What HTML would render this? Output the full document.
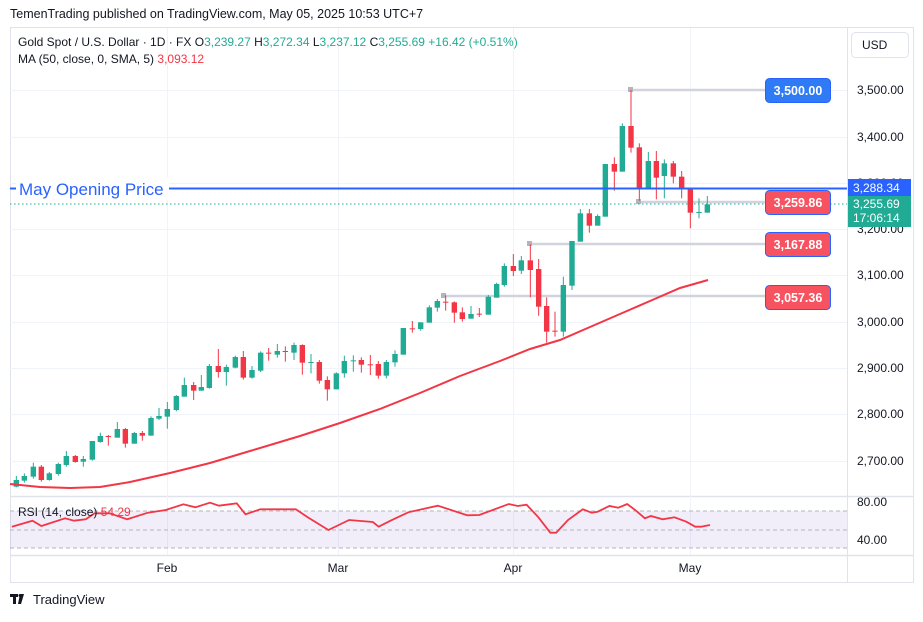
<!DOCTYPE html>
<html><head><meta charset="utf-8"><style>
body{margin:0;background:#fff;width:923px;height:617px;overflow:hidden;font-family:"Liberation Sans",sans-serif}
svg text{font-family:"Liberation Sans",sans-serif}
</style></head><body>
<svg id="s" width="923" height="617" xmlns="http://www.w3.org/2000/svg">
<rect width="923" height="617" fill="#fff"/>
<text x="10" y="18" font-size="12.5" fill="#131722">TemenTrading published on TradingView.com, May 05, 2025 10:53 UTC+7</text>
<rect x="10.5" y="27.5" width="903" height="555" fill="none" stroke="#e0e3eb"/>
<line x1="847.5" y1="27" x2="847.5" y2="582" stroke="#e0e3eb"/>
<line x1="10" y1="496.5" x2="913" y2="496.5" stroke="#e0e3eb" stroke-width="1.5"/>
<line x1="10" y1="555.5" x2="913" y2="555.5" stroke="#e0e3eb" stroke-width="1.5"/>
<g id="grid" stroke="#f0f3fa" stroke-width="1"></g>
<rect x="10" y="511" width="837" height="37" fill="#7e57c2" fill-opacity="0.1"/>
<g stroke="#b2b5be" stroke-dasharray="4,3" stroke-width="1">
<line x1="10" y1="511" x2="847" y2="511"/><line x1="10" y1="530" x2="847" y2="530"/><line x1="10" y1="548" x2="847" y2="548"/></g>
<g stroke="#d1d4dc" stroke-width="2.5">
<line x1="631" y1="90" x2="765" y2="90"/><line x1="639" y1="202" x2="765" y2="202"/>
<line x1="530" y1="244" x2="765" y2="244"/><line x1="444" y1="296" x2="765" y2="296"/></g>
<g fill="#b2b5be"><rect x="628" y="87" width="5" height="5"/><rect x="636" y="199" width="5" height="5"/><rect x="527" y="241" width="5" height="5"/><rect x="441" y="293" width="5" height="5"/></g>
<line x1="10" y1="204" x2="847" y2="204" stroke="#22ab94" stroke-dasharray="1.5,2.5"/>
<g id="candles"></g>
<polyline fill="none" stroke="#f23645" stroke-width="2" points="10,484 40,487 70,488 100,487 130,482 170,473 210,463 250,451 300,436 340,423 380,409 420,393 460,376 500,361 530,349 560,340 590,327 620,314 650,301 680,288 708,280"/>
<polyline id="rsi" fill="none" stroke="#f23645" stroke-width="1.8"/>
<line x1="10" y1="188.5" x2="847" y2="188.5" stroke="#2962ff" stroke-width="2"/>
<rect x="16" y="178" width="153" height="22" fill="#fff"/>
<text x="19" y="195" font-size="17" fill="#2962ff">May Opening Price</text>
<g font-size="12.5" font-weight="bold" fill="#fff" text-anchor="middle">
<rect x="765.5" y="78.5" width="65" height="24" rx="4" fill="#2f7bf5" stroke="#2962ff"/><text x="798" y="95">3,500.00</text>
<rect x="765.5" y="190.5" width="65" height="24" rx="4" fill="#f7525f" stroke="#2962ff"/><text x="798" y="207">3,259.86</text>
<rect x="765.5" y="232.5" width="65" height="24" rx="4" fill="#f7525f" stroke="#2962ff"/><text x="798" y="249">3,167.88</text>
<rect x="765.5" y="285.5" width="65" height="24" rx="4" fill="#f7525f" stroke="#2962ff"/><text x="798" y="302">3,057.36</text>
</g>
<g font-size="12" fill="#131722">
<text x="857" y="94">3,500.00</text><text x="857" y="141">3,400.00</text><text x="857" y="187">3,300.00</text>
<text x="857" y="233">3,200.00</text><text x="857" y="279">3,100.00</text><text x="857" y="326">3,000.00</text>
<text x="857" y="372">2,900.00</text><text x="857" y="418">2,800.00</text><text x="857" y="465">2,700.00</text>
<text x="857" y="506">80.00</text><text x="857" y="544">40.00</text>
</g>
<rect x="848" y="179" width="63" height="17" fill="#2962ff"/>
<rect x="848" y="196" width="63" height="31" fill="#22ab94"/>
<g font-size="12" fill="#fff"><text x="853" y="192">3,288.34</text><text x="853" y="208">3,255.69</text><text x="853" y="222">17:06:14</text></g>
<rect x="851.5" y="32.5" width="57" height="25" rx="4" fill="#fff" stroke="#e0e3eb"/>
<text x="862" y="49" font-size="12" fill="#131722">USD</text>
<g font-size="12" fill="#131722" text-anchor="middle"><text x="167" y="572">Feb</text><text x="338" y="572">Mar</text><text x="513" y="572">Apr</text><text x="690" y="572">May</text></g>
<g font-size="12"><text x="18" y="46" fill="#131722">Gold Spot / U.S. Dollar · 1D · FX  <tspan>O</tspan><tspan fill="#22ab94">3,239.27</tspan>  H<tspan fill="#22ab94">3,272.34</tspan>  L<tspan fill="#22ab94">3,237.12</tspan>  C<tspan fill="#22ab94">3,255.69</tspan>  <tspan fill="#22ab94">+16.42 (+0.51%)</tspan></text>
<text x="18" y="63" fill="#131722">MA (50, close, 0, SMA, 5)  <tspan fill="#f23645">3,093.12</tspan></text>
<text x="18" y="516" fill="#131722">RSI (14, close) <tspan fill="#f23645">54.29</tspan></text></g>
<g fill="#131722"><rect x="10" y="594" width="8" height="3"/><rect x="13" y="594" width="3" height="10"/><path d="M20 594h4l-3 10h-3z"/><circle cx="20" cy="595.5" r="1.5"/></g>
<text x="33" y="604" font-size="13" fill="#131722">TradingView</text>
</svg>
<script>
var NS="http://www.w3.org/2000/svg",g=document.getElementById("grid"),c=document.getElementById("candles");
function el(p,t,a){var e=document.createElementNS(NS,t);for(var k in a)e.setAttribute(k,a[k]);p.appendChild(e);return e;}
[90,137,183,229,275,322,368,414,461].forEach(function(y){el(g,"line",{x1:10,x2:847,y1:y+.5,y2:y+.5});});
[167,338,513,690].forEach(function(x){el(g,"line",{x1:x+.5,x2:x+.5,y1:28,y2:555});});
var z5=[[34,1,450,470,438,472],[58,1,438,452,430,458],[85,1,410,440,398,446],[109,0,410,450,405,455],[133,1,430,450,426,452],[160,1,402,432,398,437],[184,1,378,405,363,410],[211,0,378,396,375,398],[235,1,387,395,378,410],[262,1,333,389,333,392],[286,1,318,336,308,338],[310,0,318,318,315,347],[337,1,297,323,276,323],[361,0,297,341,294,353],[388,1,309,341,306,341],[412,0,309,317,303,332],[438,1,264,317,259,317],[462,1,258,266,234,270],[487,1,237,260,216,296],[514,1,198,240,195,244],[538,1,165,200,143,200],[566,0,165,182,156,210],[589,1,171,182,135,182],[613,1,108,174,102,176],[640,0,108,126,57,143],[664,1,111,126,104,167],[691,1,81,113,77,115],[715,0,81,143,63,149],[741,1,120,143,108,146]];
var z6=[[32,1,218,272,214,276],[56,0,218,218,204,242],[82,1,213,224,192,233],[106,0,213,213,199,245],[132,1,195,218,188,240],[157,0,195,248,193,284],[183,1,246,246,222,280],[208,0,246,302,240,311],[232,0,300,328,289,362],[259,1,280,328,277,328],[283,1,243,280,227,293],[310,1,241,241,226,275],[334,0,240,254,232,278],[361,0,253,253,225,285],[385,0,252,287,243,296],[409,1,246,287,240,295],[435,1,222,247,211,260],[460,1,144,224,144,224],[487,0,145,145,123,158],[512,1,127,147,127,152],[538,1,82,128,76,128],[562,1,63,83,57,95],[587,0,65,65,46,92],[613,0,67,98,64,128],[637,0,97,117,82,125],[663,1,102,116,78,116],[688,0,101,101,84,111],[715,1,50,104,45,104],[740,1,12,53,8,53]];
var z4=[[13,1,558,615,550,620],[40,0,558,573,522,588],[64,1,541,572,528,582],[91,0,541,570,493,652],[116,0,567,680,537,707],[140,0,678,755,652,788],[165,0,752,755,695,770],[190,1,615,755,590,770],[216,1,483,617,483,630],[241,1,400,485,387,485],[268,0,400,437,387,458],[293,1,408,437,403,437],[316,1,252,410,252,410],[343,0,252,275,232,332],[367,1,138,275,130,275],[393,0,138,203,30,218],[418,0,202,328,190,362],[445,1,243,328,216,328],[469,0,243,293,213,358],[493,1,250,288,238,355],[520,0,250,290,243,310],[545,0,290,328,273,355],[571,0,328,398,325,445],[597,1,396,398,355,415],[622,1,373,398,348,398]];
function draw(arr,ox,oy){arr.forEach(function(d){var x=ox+d[0]/3,col=d[1]?"#22ab94":"#f23645",t=oy+d[2]/3,b=oy+d[3]/3;
el(c,"line",{x1:x,x2:x,y1:oy+d[4]/3,y2:oy+d[5]/3,stroke:col,"stroke-width":1});
el(c,"rect",{x:x-2.7,y:t,width:5.4,height:Math.max(1,b-t),fill:col});});}
draw(z5,5,330);draw(z6,250,280);draw(z4,500,80);
var r=[[20,140],[55,122],[70,138],[110,115],[125,122],[145,118],[160,100],[185,100],[215,118],[250,98],[280,90],[310,73],[330,82],[355,68],[370,77],[400,70],[415,103],[440,88],[500,88],[520,112],[555,150],[590,120],[630,126],[640,140],[660,122],[690,97],[740,77],[790,106],[810,105],[860,72],[875,78],[890,74],[910,112],[930,158],[940,158],[960,120],[985,88],[1000,98],[1010,95],[1030,78],[1045,83],[1060,72],[1075,92],[1090,115],[1100,108],[1120,118],[1140,112],[1160,125],[1175,140],[1185,140],[1200,135]];
document.getElementById("rsi").setAttribute("points",r.map(function(p){return (p[0]*923/1560).toFixed(1)+","+(480+p[1]/3).toFixed(1)}).join(" "));
</script>
</body></html>
